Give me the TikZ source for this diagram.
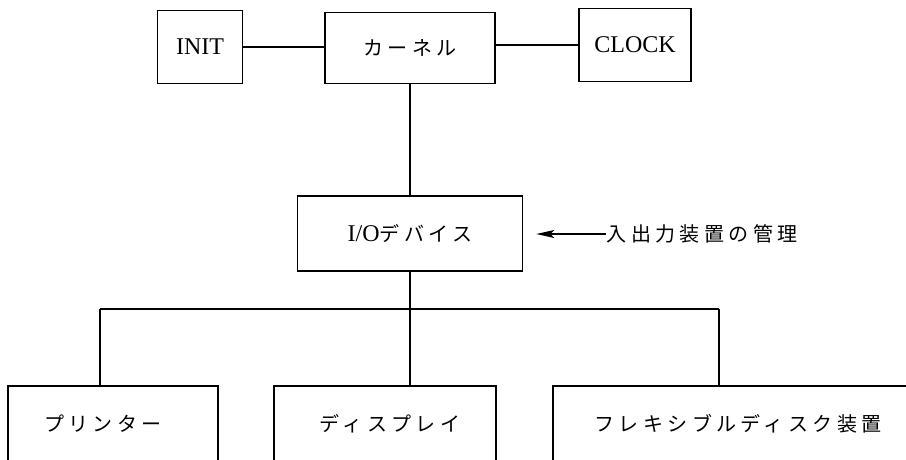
\documentclass[tikz,border=0pt]{standalone}
\usepackage{fontspec}
\setmainfont{Liberation Serif}
\newfontfamily\jp[LetterSpace=22]{Noto Sans CJK JP}
\usetikzlibrary{arrows.meta}
\begin{document}
\begin{tikzpicture}[x=1pt,y=-1pt,line width=1.6pt,
  box/.style={draw,line width=1.6pt,inner sep=0pt,font=\fontsize{24}{28}\selectfont},
  jptxt/.style={inner sep=0pt,font=\fontsize{20}{24}\selectfont\jp},
  conn/.style={draw,line width=1.6pt},
  ptr/.style={draw,line width=1.6pt,-{Stealth[length=18pt,width=8pt,inset=4pt]}}]
\useasboundingbox (0,0) rectangle (906,459);
% top row
\node[box,minimum width=85pt,minimum height=73pt] (init) at (200,47) {INIT};
\node[box,minimum width=170pt,minimum height=71pt,font=\fontsize{20}{24}\selectfont\jp] (kern) at (410,48) {カーネル};
\node[box,minimum width=112pt,minimum height=73pt] (clock) at (635,45) {CLOCK};
\draw[conn] (init.east) -- (kern.west |- init.east);
\draw[conn] (kern.east |- clock.west) -- (clock.west);
% I/O
\node[box,minimum width=225pt,minimum height=75pt] (io) at (410,233.5) {I/O{\fontsize{20}{24}\selectfont\jp デバイス}};
\draw[conn] (kern.south) -- (io.north);
\node[jptxt,anchor=west] (mgmt) at (606,234) {入出力装置の管理};
\draw[ptr] (mgmt.west) -- ([xshift=13pt]io.east |- mgmt.west);
% bottom row
\begin{scope}
\clip (0,0) rectangle (906,459);
\node[box,anchor=north west,minimum width=210pt,minimum height=120pt] (pr) at (7,385) {};
\node[box,anchor=north west,minimum width=222pt,minimum height=120pt] (di) at (273,385) {};
\node[box,anchor=north west,minimum width=400pt,minimum height=120pt] (fd) at (552,385) {};
\end{scope}
\node[jptxt] (prt) at (103,424) {プリンター};
\node[jptxt] (dit) at (390,424) {ディスプレイ};
\node[jptxt] (fdt) at (738,424) {フレキシブルディスク装置};
\coordinate (bl) at (100,309);
\coordinate (br) at (719,309);
\draw[conn] (io.south) -- (io.south |- di.north);
\draw[conn] (bl) -- (br);
\draw[conn] (bl) -- (bl |- pr.north);
\draw[conn] (br) -- (br |- fd.north);
\end{tikzpicture}
\end{document}
